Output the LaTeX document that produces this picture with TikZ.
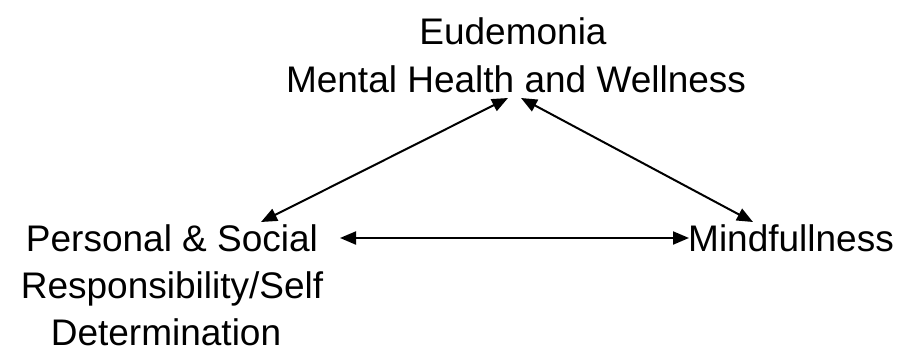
\documentclass[tikz,border=0pt]{standalone}
\usepackage{fontspec}
\setmainfont{Liberation Sans}
\usetikzlibrary{arrows.meta}
\begin{document}
\begin{tikzpicture}[x=1pt,y=-1pt,
  lbl/.style={anchor=base,inner sep=0pt,font=\fontsize{37}{44}\selectfont},
  conn/.style={line width=2pt,{Triangle[length=16pt,width=13pt]}-{Triangle[length=16pt,width=13pt]}}]
\useasboundingbox (0,0) rectangle (902,362);
\node[lbl] (e1) at (513,44) {Eudemonia};
\node[lbl] (e2) at (516,92) {Mental Health and Wellness};
\node[lbl] (p1) at (172,251) {Personal \& Social};
\node[lbl] (p2) at (172,298) {Responsibility/Self};
\node[lbl] (p3) at (166,345) {Determination};
\node[lbl,anchor=base west] (m) at (688,251) {Mindfullness};
\coordinate (a1) at (508,98);
\coordinate (a2) at (261,222);
\coordinate (b1) at (521,98);
\coordinate (b2) at (753,222);
\coordinate (c1) at (340,238);
\coordinate (c2) at (689,238);
\draw[conn] (a1) -- (a2);
\draw[conn] (b1) -- (b2);
\draw[conn] (c1) -- (c2);
\end{tikzpicture}
\end{document}
